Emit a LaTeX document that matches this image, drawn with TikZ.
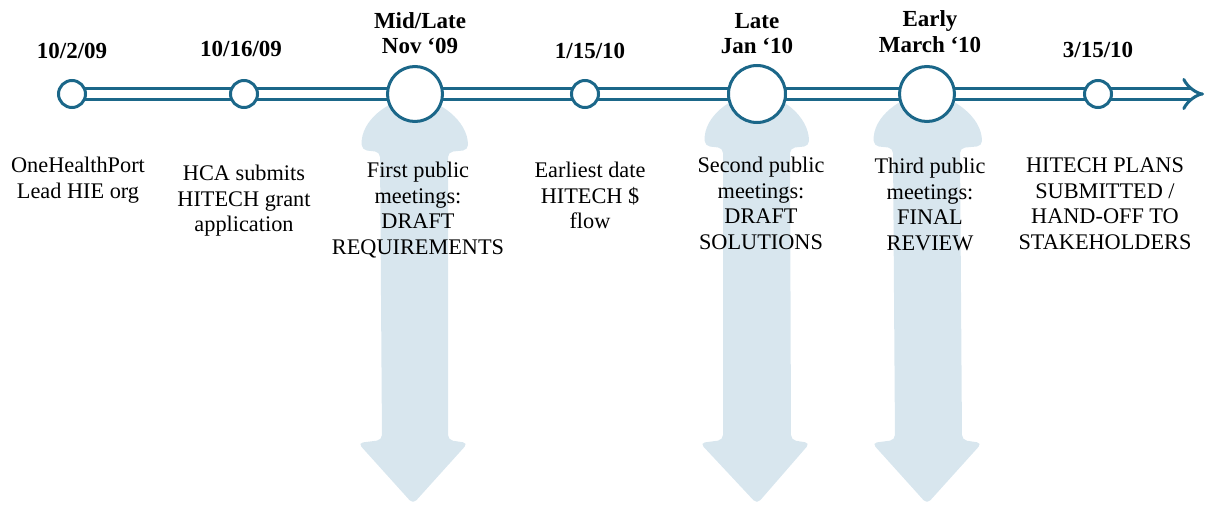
\documentclass[tikz,border=0pt]{standalone}
\usepackage{fontspec}
\setmainfont{Liberation Serif}
\usepackage{xcolor}
\usepackage{tikz}
\usetikzlibrary{positioning}
\usetikzlibrary{arrows.meta}
\usetikzlibrary{backgrounds}

\definecolor{tlblue}{RGB}{27,103,137}
\definecolor{bandblue}{RGB}{216,230,238}

\tikzset{
  timeline/.style={draw=tlblue, line width=3pt, double=white, double distance=8pt, -{Implies}},
  small/.style={circle, draw=tlblue, line width=3pt, fill=white, minimum size=27pt, inner sep=0pt},
  big/.style={circle, draw=tlblue, line width=3pt, fill=white, minimum size=55pt, inner sep=0pt},
  datetext/.style={font=\fontsize{23}{25}\selectfont\bfseries, align=center, inner sep=0pt},
  desctext/.style={font=\fontsize{22.3}{25.5}\selectfont, align=center, inner sep=0pt},
  bandfill/.style={fill=bandblue, rounded corners=5pt}
}

\begin{document}
\begin{tikzpicture}[x=1pt, y=-1pt]
\useasboundingbox (0,0) rectangle (1205,506);

% milestones
\node[small] (m1) at (72,94) {};
\node[small] (m2) at (244,94) {};
\node[big] (m3) at (415,94) {};
\node[small] (m4) at (585,94) {};
\node[big, minimum size=57pt] (m5) at (757,94) {};
\node[big] (m6) at (927,94) {};
\node[small] (m7) at (1098,94) {};
\coordinate (tlend) at (1204,94);

\begin{scope}[on background layer]
% light arrows behind the meetings
\fill[bandfill] (380,152) -- (362,150) .. controls (360,120) and (390,100) .. (414,98)
  .. controls (438,100) and (468,120) .. (468,150) -- (448,152) -- (448,440) -- (468,443) -- (413,504)
  -- (358,443) -- (382,440) -- cycle;
\fill[bandfill] (723,148) -- (705,146) .. controls (703,116) and (733,96) .. (757,94)
  .. controls (781,96) and (809,116) .. (809,146) -- (790,148) -- (791,440) -- (810,443) -- (757,504)
  -- (700,443) -- (723,440) -- cycle;
\fill[bandfill] (893,148) -- (874,146) .. controls (872,116) and (903,96) .. (927,94)
  .. controls (951,96) and (982,116) .. (982,146) -- (960,148) -- (962,440) -- (982,443) -- (927,504)
  -- (872,443) -- (895,440) -- cycle;
\draw[timeline] (m1.center) -- (tlend);
\end{scope}

% dates
\node[datetext, above=21pt of m1, anchor=base] (d1) {10/2/09};
\node[datetext, above=23pt of m2, anchor=base, xshift=-3pt] (d2) {10/16/09};
\node[datetext, above=12pt of m3, anchor=base, xshift=5pt] (d3) {Mid/Late\\Nov `09};
\node[datetext, above=21pt of m4, anchor=base, xshift=5pt] (d4) {1/15/10};
\node[datetext, above=11pt of m5, anchor=base] (d5) {Late\\Jan `10};
\node[datetext, above=13pt of m6, anchor=base, xshift=3pt] (d6) {Early\\March `10};
\node[datetext, above=22pt of m7, anchor=base] (d7) {3/15/10};

% descriptions
\node[desctext, below=48pt of m1, xshift=6pt] (t1) {OneHealthPort\\Lead HIE org};
\node[desctext, below=56pt of m2] (t2) {HCA submits\\HITECH grant\\application};
\node[desctext, below=39pt of m3, xshift=3pt] (t3) {First public\\meetings:\\DRAFT\\REQUIREMENTS};
\node[desctext, below=53pt of m4, xshift=5pt] (t4) {Earliest date\\HITECH \$\\flow};
\node[desctext, below=33pt of m5, xshift=4pt] (t5) {Second public\\meetings:\\DRAFT\\SOLUTIONS};
\node[desctext, below=35pt of m6, xshift=3pt] (t6) {Third public\\meetings:\\FINAL\\REVIEW};
\node[desctext, below=49pt of m7, xshift=7pt] (t7) {HITECH PLANS\\SUBMITTED /\\HAND-OFF TO\\STAKEHOLDERS};
\end{tikzpicture}
\end{document}
